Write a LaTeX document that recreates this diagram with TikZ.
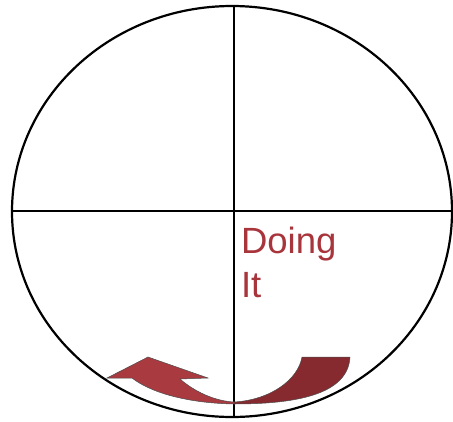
\documentclass[tikz,border=0pt]{standalone}
\usepackage{fontspec}
\setmainfont{Liberation Sans}
\definecolor{doingred}{HTML}{A8343C}
\definecolor{lightarrow}{HTML}{A83A40}
\definecolor{darkarrow}{HTML}{862A30}

\begin{document}
\begin{tikzpicture}[x=1pt, y=-1pt, line width=2.2pt]
  \useasboundingbox (0,0) rectangle (453,421);
  \draw (232,211.5) ellipse (220 and 205.5);
  \draw (12,211) -- (453,211);
  \draw (234,6) -- (234,416);
  \node[doingred, anchor=base west, inner sep=0pt, align=left,
        font=\fontsize{36.5}{44}\selectfont] (doing) at (240,297) {Doing\\It};
  % the turning arrow
  \fill[lightarrow, draw=black!70, line width=0.5pt] (234,404)
    .. controls (185,403) and (150,392) .. (132,378) -- (107,378)
    -- (148,357) -- (208,378) -- (180,379)
    .. controls (195,392) and (215,401) .. (234,402) -- cycle;
  \fill[darkarrow, draw=black!70, line width=0.5pt] (234,404)
    .. controls (295,404) and (348,395) .. (350,357) -- (302,357)
    .. controls (298,380) and (270,400) .. (234,402) -- cycle;
\end{tikzpicture}
\end{document}
